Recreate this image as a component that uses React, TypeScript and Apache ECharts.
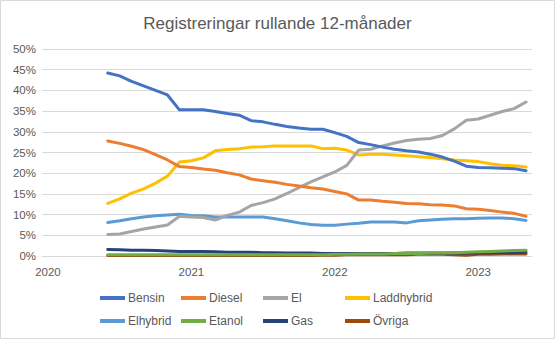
import React, { useEffect, useRef } from "react";
import * as echarts from "echarts";

const categories = [
  "2020-01","2020-02","2020-03","2020-04","2020-05","2020-06","2020-07","2020-08","2020-09","2020-10","2020-11","2020-12",
  "2021-01","2021-02","2021-03","2021-04","2021-05","2021-06","2021-07","2021-08","2021-09","2021-10","2021-11","2021-12",
  "2022-01","2022-02","2022-03","2022-04","2022-05","2022-06","2022-07","2022-08","2022-09","2022-10","2022-11","2022-12",
  "2023-01","2023-02","2023-03","2023-04","2023-05",
];
// data begins 2020-06
const firstDataIndex = 5;

const bensin = [44.2,43.5,42.2,41.1,40.0,38.9,35.3,35.3,35.3,34.9,34.4,34.0,32.7,32.4,31.8,31.3,30.9,30.6,30.6,29.8,28.9,27.4,26.9,26.3,25.8,25.4,25.1,24.6,23.9,22.9,21.7,21.4,21.3,21.2,21.1,20.6];
const diesel = [27.8,27.2,26.5,25.7,24.5,23.2,21.6,21.4,21.0,20.7,20.1,19.6,18.6,18.2,17.8,17.3,16.9,16.5,16.2,15.6,15.0,13.5,13.5,13.2,13.0,12.7,12.6,12.4,12.3,12.1,11.4,11.3,11.0,10.6,10.3,9.6];
const el = [5.2,5.3,5.9,6.5,7.0,7.5,9.6,9.4,9.3,8.7,9.8,10.6,12.2,12.9,13.8,15.1,16.5,17.9,19.1,20.3,21.9,25.6,25.8,26.6,27.3,27.9,28.2,28.4,29.1,30.7,32.8,33.1,34.0,34.9,35.6,37.2];
const laddhybrid = [12.7,13.8,15.2,16.2,17.6,19.3,22.7,23.0,23.7,25.4,25.7,25.9,26.3,26.4,26.6,26.6,26.6,26.6,25.9,26.0,25.6,24.4,24.6,24.6,24.4,24.2,24.0,23.8,23.5,23.2,23.0,22.8,22.3,21.9,21.8,21.5];
const elhybrid = [8.1,8.5,9.0,9.4,9.7,9.9,10.1,9.8,9.7,9.4,9.4,9.4,9.4,9.4,9.0,8.5,8.0,7.6,7.4,7.4,7.7,7.9,8.2,8.2,8.2,8.0,8.5,8.7,8.9,9.0,9.0,9.1,9.2,9.2,9.0,8.6];
const etanol = [0.3,0.3,0.3,0.3,0.3,0.3,0.3,0.3,0.3,0.3,0.3,0.3,0.3,0.3,0.3,0.3,0.3,0.3,0.3,0.4,0.4,0.5,0.5,0.5,0.6,0.6,0.6,0.7,0.7,0.8,0.9,1.0,1.1,1.2,1.3,1.4];
const gas = [1.6,1.5,1.4,1.4,1.3,1.2,1.1,1.1,1.1,1.0,0.9,0.9,0.9,0.8,0.8,0.7,0.7,0.7,0.6,0.6,0.6,0.6,0.6,0.6,0.6,0.7,0.7,0.7,0.7,0.7,0.7,0.7,0.8,0.8,0.8,0.9];
const ovriga = [0.1,0.1,0.1,0.1,0.1,0.1,0.1,0.1,0.1,0.1,0.1,0.1,0.1,0.1,0.1,0.1,0.1,0.1,0.2,0.2,0.3,0.3,0.3,0.3,0.3,0.3,0.4,0.4,0.4,0.3,0.2,0.4,0.4,0.5,0.5,0.5];

const seriesNames = ["Bensin","Diesel","El","Laddhybrid","Elhybrid","Etanol","Gas","Övriga"];
const seriesData = [bensin, diesel, el, laddhybrid, elhybrid, etanol, gas, ovriga];
const colors = ["#4472C4","#ED7D31","#A5A5A5","#FFC000","#5B9BD5","#70AD47","#264478","#9E480E"];

const yTicks = [0, 5, 10, 15, 20, 25, 30, 35, 40, 45, 50];

const FONT = "'Liberation Sans', Arial, sans-serif";
const TXT = "#595959";

export default function App() {
  const ref = useRef<HTMLDivElement>(null);
  useEffect(() => {
    document.body.style.margin = "0";
    const chart = echarts.init(ref.current!, null, { renderer: "svg" });
    const legendCols = [100, 181, 263, 345];
    const legendRows = [292, 315];
    const option: any = {
      animation: false,
      backgroundColor: "#ffffff",
      title: {
        text: "Registreringar rullande 12-månader",
        left: "center",
        top: 10,
        textStyle: { color: TXT, fontSize: 17, fontWeight: "normal", fontFamily: FONT },
      },
      grid: { left: 42, right: 23, top: 49, bottom: 83 },
      legend: seriesNames.map((n, i) => ({
        data: [n],
        left: legendCols[i % 4],
        top: legendRows[Math.floor(i / 4)],
        icon: "rect",
        itemWidth: 25,
        itemHeight: 4,
        itemGap: 0,
        textStyle: { color: TXT, fontSize: 12, fontFamily: FONT, padding: [0, 0, 0, -2] },
        padding: 0,
      })),
      xAxis: {
        type: "category",
        data: categories,
        boundaryGap: true,
        axisLine: { show: true, lineStyle: { color: "#d9d9d9", width: 1 } },
        axisTick: { show: false },
        axisLabel: {
          interval: (idx: number, val: string) => val.endsWith("-01"),
          formatter: (val: string) => val.slice(0, 4),
          color: TXT,
          fontSize: 11.5,
          fontFamily: FONT,
          margin: 10,
        },
        splitLine: { show: false },
      },
      yAxis: {
        type: "value",
        min: yTicks[0],
        max: yTicks[yTicks.length - 1],
        interval: 5,
        axisLine: { show: false },
        axisTick: { show: false },
        axisLabel: {
          formatter: (v: number) => v + "%",
          color: TXT,
          fontSize: 11.5,
          fontFamily: FONT,
          margin: 6,
        },
        splitLine: { lineStyle: { color: "#d9d9d9", width: 1 } },
      },
      series: seriesNames.map((n, i) => ({
        name: n,
        type: "line",
        data: [...new Array(firstDataIndex).fill(null), ...seriesData[i]],
        showSymbol: false,
        symbol: "none",
        lineStyle: { color: colors[i], width: 3, join: "round", cap: "round" },
        itemStyle: { color: colors[i] },
        z: 10 - i,
      })),
      graphic: [
        {
          type: "rect",
          shape: { x: 0.5, y: 0.5, width: 554, height: 338 },
          style: { fill: "none", stroke: "#d9d9d9", lineWidth: 1 },
          silent: true,
        },
      ],
    };
    chart.setOption(option);
    return () => chart.dispose();
  }, []);
  return <div ref={ref} style={{ width: 555, height: 339 }} />;
}
